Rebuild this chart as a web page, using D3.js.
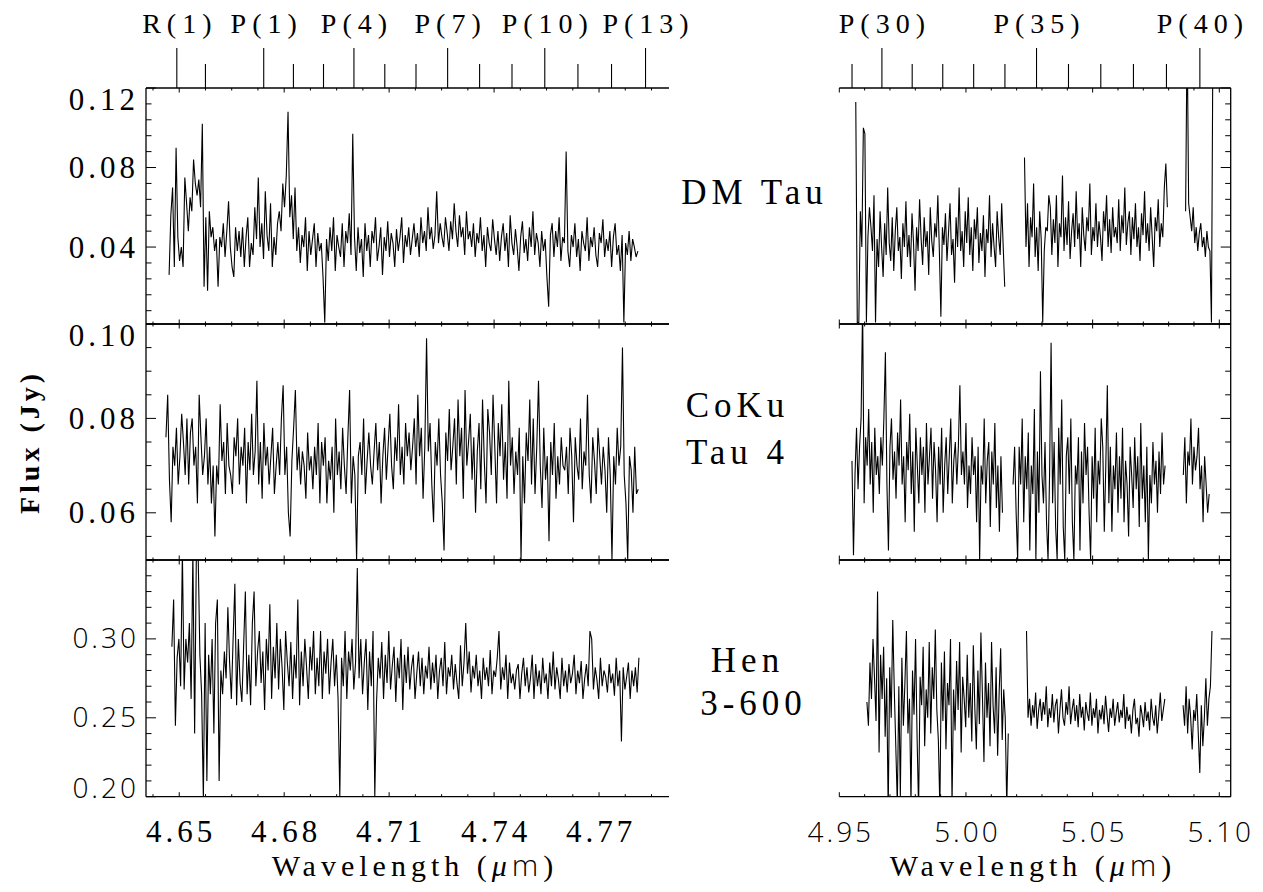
<!DOCTYPE html>
<html><head><meta charset="utf-8">
<script src="https://cdn.jsdelivr.net/npm/d3@7"></script>
<style>body{margin:0;background:#fff}svg{display:block}</style>
</head><body><svg id="c" width="1263" height="892"></svg>
<script>
// ---------------- DATA (flux in mJy, uniform wavelength sampling) ----------------
const sampleStepLeft = 0.0005;   // µm
const sampleStepRight = 0.0006;  // µm

const dmTauLeftStart = 4.6471;
const dmTauLeft = [
26,56,70,30,90,45,33,40,30,75,
62,48,65,58,84,72,66,74,60,102,
20,55,18,58,45,50,38,44,20,45,
40,52,35,48,63,40,30,25,50,38,
48,35,50,30,45,55,30,42,36,60,
44,75,40,52,34,68,46,38,62,30,
45,36,52,58,48,72,60,76,108,55,
66,44,70,38,50,32,46,40,55,28,
48,36,44,52,30,47,38,42,25,2,
44,33,50,38,55,28,46,40,35,52,
30,48,42,57,36,97,45,28,50,37,
44,25,52,38,46,30,48,42,55,33,
40,50,26,45,38,53,35,47,42,30,
49,38,45,55,32,46,40,50,36,44,
52,40,47,35,55,42,48,38,60,44,
50,39,46,68,42,52,45,40,55,47,
38,53,44,62,48,40,56,45,50,36,
58,44,48,40,52,35,47,42,55,38,
46,30,50,42,38,54,44,36,48,33,
45,52,38,47,30,56,42,36,49,40,
28,45,53,37,44,33,50,40,58,36,
47,42,30,48,38,44,25,10,46,52,
35,48,40,55,33,45,42,88,38,30,
46,40,52,35,44,28,48,42,38,55,
33,45,40,50,36,30,47,42,54,35,
44,38,48,30,45,52,36,41,28,46,
2,42,36,48,33,44,40,35,38];

const dmTauRightStart = 4.9565;
const dmTauRight = [
113,2,2,58,40,100,97,2,45,60,
50,38,66,2,44,30,58,40,25,52,
36,70,42,33,55,28,48,60,38,45,
24,52,40,63,35,46,30,57,42,18,
50,38,64,44,31,55,40,48,26,60,
43,35,52,45,66,38,5,50,41,57,
33,47,62,36,44,22,55,40,70,38,
48,30,58,42,65,36,50,28,54,44,
60,32,47,38,56,25,49,42,66,35,
52,40,30,58,45,36,62,40,20,
null,null,null,null,null,null,null,null,null,null,null,null,
85,40,62,30,55,45,72,35,50,28,
58,44,2,38,50,48,66,60,36,54,
42,66,30,52,45,76,38,55,41,63,
34,48,57,40,68,44,52,30,60,46,
38,55,48,72,36,50,43,62,40,53,
45,33,58,48,66,40,54,37,60,45,
50,42,64,38,56,47,70,41,52,58,
36,55,44,62,40,50,33,57,46,68,
42,52,38,60,45,30,55,48,64,40,
52,45,70,82,60,
null,null,null,null,null,null,null,null,null,null,null,
58,150,62,55,48,60,42,50,38,47,
52,40,45,35,48,40,38,2,150];

const cokuLeftStart = 4.6462;
const cokuLeft = [
76,85,67,58,74,70,78,66,72,81,
75,68,80,66,77,80,70,74,62,85,
76,68,72,80,66,74,62,70,55,70,
66,83,71,75,64,79,70,68,64,76,
72,80,66,74,70,78,62,75,69,81,
68,73,88,66,75,63,79,70,74,66,
72,78,64,70,75,68,80,87,68,74,
60,55,71,78,86,69,74,66,73,70,
63,77,69,72,65,74,68,79,62,75,
70,76,62,71,67,74,60,80,68,73,
65,78,70,64,76,86,62,72,68,50,
72,75,68,80,64,71,77,70,66,73,
79,69,75,62,72,78,67,74,81,70,
65,76,71,83,68,74,66,79,72,77,
69,74,80,66,85,72,78,63,74,97,
73,79,66,58,75,70,80,68,62,52,
77,71,82,69,74,80,66,84,72,78,
63,86,70,75,81,67,76,60,73,79,
65,84,71,62,82,77,68,85,74,62,
79,72,83,67,75,63,88,70,76,64,
73,68,78,50,72,62,77,71,84,66,
80,64,74,88,70,61,78,67,72,54,
75,68,79,63,72,66,76,70,69,74,
64,78,72,58,76,70,67,80,65,73,
70,85,68,62,76,71,64,78,72,66,
74,69,60,76,68,50,72,66,78,70,
74,95,68,62,50,72,69,60,74,64,65];

const cokuRightStart = 4.9550;
const cokuRight = [
71,51,68,78,65,74,80,104,62,76,
70,82,66,75,60,78,68,72,64,76,
70,80,94,66,52,74,80,67,73,63,
77,70,84,66,72,58,75,69,81,64,
73,56,78,70,62,76,68,74,60,79,
66,72,78,63,75,69,58,74,66,78,
60,70,76,64,72,80,62,71,75,66,
74,87,68,73,66,79,61,70,64,76,
68,72,58,74,50,70,66,80,62,71,
75,57,73,66,79,61,70,56,72,60,
null,null,null,null,null,null,
66,74,60,50,74,66,80,58,72,65,
77,52,70,64,82,50,73,60,90,68,
62,75,58,50,68,96,62,75,57,50,
78,66,84,57,50,72,76,64,80,58,
50,70,66,76,52,73,62,79,68,74,
60,50,72,63,78,58,71,66,80,74,
56,70,87,62,74,56,70,65,77,60,
72,63,78,58,71,66,55,74,68,61,
76,65,72,57,79,63,70,58,74,50,
68,62,75,66,71,60,73,64,77,66,70,
null,null,null,null,null,null,null,null,null,null,null,
68,76,62,73,70,80,66,74,69,72,
78,65,70,58,72,66,60,64];

const henLeftStart = 4.6479;
const henLeft = [
295,325,245,288,300,270,355,268,300,285,
310,262,355,240,355,355,290,265,198,310,
210,290,265,300,240,310,325,210,280,265,
292,275,320,285,262,300,335,258,300,272,
260,295,330,265,290,258,310,330,270,292,
305,272,292,255,300,280,322,262,295,275,
310,268,300,282,255,305,285,270,298,262,
290,275,325,258,292,270,300,282,262,295,
280,305,265,288,270,305,262,292,278,300,
265,285,300,270,290,262,200,288,270,305,
262,292,280,300,268,285,345,275,300,265,
285,300,255,292,270,305,200,260,288,275,
298,262,290,272,305,268,283,295,260,288,
275,300,255,290,272,295,268,282,290,262,
278,292,270,288,265,283,275,295,268,285,
272,290,262,280,288,270,298,265,282,276,
290,268,284,272,262,296,270,285,310,278,
292,266,283,275,290,270,280,262,288,274,
282,270,293,265,280,276,288,305,268,282,
274,290,262,285,272,278,268,280,284,262,
278,288,270,282,266,275,290,262,284,270,
280,265,288,272,278,262,285,270,292,268,
282,274,262,288,270,280,266,284,272,278,
290,265,280,272,286,262,275,284,270,305,
300,268,282,274,262,288,270,280,276,266,
284,272,278,264,288,270,280,235,282,268,
276,285,262,280,270,282,266,288];

const henRightStart = 4.9609;
const henRight = [
260,245,285,262,300,275,248,330,228,290,
262,295,238,275,190,282,250,312,268,232,
195,270,200,288,245,272,305,240,262,196,
280,252,300,238,192,276,258,295,232,268,
250,298,240,282,262,306,255,236,192,285,
248,292,230,272,258,300,195,268,242,286,
255,298,228,276,262,244,290,250,272,235,
296,256,230,280,246,304,264,222,285,250,
272,232,298,258,240,282,226,266,294,236,
268,250,194,240,
null,null,null,null,null,null,null,null,null,null,null,
305,250,262,245,258,250,266,243,255,262,
248,260,252,270,244,256,250,265,247,258,
262,240,255,268,250,245,260,252,270,246,
255,262,248,258,244,265,250,257,242,260,
253,248,266,245,256,250,262,240,255,249,
258,246,264,252,241,256,250,262,245,253,
260,247,255,250,265,243,257,248,252,240,
255,262,246,250,238,258,252,244,260,248,
254,242,262,250,245,258,240,252,266,248,255,262,
null,null,null,null,null,null,null,null,null,null,null,
258,245,270,240,262,250,230,255,248,265,
240,215,258,232,250,275,245,262,270,305];

const sourceNames = [["DM Tau"], ["CoKu", "Tau 4"], ["Hen", "3-600"]];

// CO v=1-0 line positions (top axis)
const coLinesLeftNames = ["R(1)","R(0)","P(1)","P(2)","P(3)","P(4)","P(5)","P(6)","P(7)","P(8)","P(9)","P(10)","P(11)","P(12)","P(13)"];
const coLinesLeftWave  = [4.64931,4.65749,4.67415,4.68264,4.69124,4.69994,4.70876,4.71768,4.72672,4.73586,4.74512,4.75449,4.76397,4.77357,4.78329];
const coLinesRightNames = ["P(29)","P(30)","P(31)","P(32)","P(33)","P(34)","P(35)","P(36)","P(37)","P(38)","P(39)","P(40)"];
const coLinesRightWave  = [4.95502,4.96682,4.97877,4.99084,5.00304,5.01538,5.02785,5.04047,5.05322,5.06611,5.07914,5.09233];
const coLabelled = ["R(1)","P(1)","P(4)","P(7)","P(10)","P(13)","P(30)","P(35)","P(40)"];

const xTicksLeft  = [4.65, 4.68, 4.71, 4.74, 4.77];
const xTicksRight = [4.95, 5.00, 5.05, 5.10];
const yTicksDM   = [0.04, 0.08, 0.12];
const yTicksCoKu = [0.06, 0.08, 0.10];
const yTicksHen  = [0.20, 0.25, 0.30];

// ---------------- LAYOUT ----------------
const SERIF = "'Liberation Serif', 'DejaVu Serif', 'Noto Serif', serif";
const SANS = "'Open Sans', 'DejaVu Sans', sans-serif";
const svg = d3.select('#c');
const cols = [
  {x0:146, x1:669, dom:[4.6405, 4.790], step:sampleStepLeft, ticks:xTicksLeft, minor:0.0075, minorStart:4.6425, font:SERIF, weight:400, fs:31, ls:4, co:[coLinesLeftNames, coLinesLeftWave]},
  {x0:839.3, x1:1230.7, dom:[4.95, 5.1045], step:sampleStepRight, ticks:xTicksRight, minor:0.01, minorStart:4.95, font:SANS, weight:300, fs:28, ls:3, co:[coLinesRightNames, coLinesRightWave]}
];
const rows = [
  {y0:88, y1:324, dom:[0.0013, 0.12], ticks:yTicksDM, minor:0.008, minorStart:0.008, font:SERIF, weight:400, fs:31, ls:4,
   data:[[dmTauLeftStart, dmTauLeft],[dmTauRightStart, dmTauRight]]},
  {y0:324, y1:560, dom:[0.05, 0.10], ticks:yTicksCoKu, minor:0.005, minorStart:0.05, font:SERIF, weight:400, fs:31, ls:4,
   data:[[cokuLeftStart, cokuLeft],[cokuRightStart, cokuRight]]},
  {y0:560, y1:796.7, dom:[0.20, 0.35], ticks:yTicksHen, minor:0.01, minorStart:0.20, font:SANS, weight:300, fs:28, ls:3,
   data:[[henLeftStart, henLeft],[henRightStart, henRight]]}
];

function txt(sel, font, size, ls, weight) {
  return sel.style('font-family', font).style('font-size', size + 'px')
    .style('letter-spacing', ls + 'px').style('font-weight', weight || 400).attr('fill', '#000');
}

const defs = svg.append('defs');
const g = svg.append('g').attr('stroke', '#000').attr('fill', 'none');

rows.forEach((row, r) => {
  const y = d3.scaleLinear().domain(row.dom).range([row.y1, row.y0]);
  cols.forEach((col, c) => {
    const x = d3.scaleLinear().domain(col.dom).range([col.x0, col.x1]);
    const id = `clip${r}${c}`;
    defs.append('clipPath').attr('id', id).append('rect')
      .attr('x', col.x0).attr('y', row.y0).attr('width', col.x1 - col.x0).attr('height', row.y1 - row.y0);
    const [start, vals] = row.data[c];
    const pts = vals.map((v, i) => ({w: start + i * col.step, f: v == null ? null : v / 1000}));
    const line = d3.line().defined(d => d.f != null).x(d => x(d.w)).y(d => y(d.f));
    g.append('path').attr('clip-path', `url(#${id})`).attr('d', line(pts)).attr('stroke-width', 1.1);
    // frame
    g.append('line').attr('x1', col.x0).attr('x2', col.x1).attr('y1', row.y0).attr('y2', row.y0).attr('stroke-width', 1.3);
    g.append('line').attr('x1', col.x0).attr('x2', col.x1).attr('y1', row.y1).attr('y2', row.y1).attr('stroke-width', 1.3);
    const edgeX = c === 0 ? col.x0 : col.x1;
    const dir = c === 0 ? 1 : -1;
    g.append('line').attr('x1', edgeX).attr('x2', edgeX).attr('y1', row.y0).attr('y2', row.y1).attr('stroke-width', 1.3);
    // x ticks inside, top and bottom
    d3.range(col.minorStart, col.dom[1] + 1e-9, col.minor).forEach(w => {
      const isMajor = col.ticks.some(t => Math.abs(t - w) < 1e-6);
      const len = isMajor ? 4.5 : 2.5;
      const px = x(w);
      g.append('line').attr('x1', px).attr('x2', px).attr('y1', row.y1).attr('y2', row.y1 - len).attr('stroke-width', 1);
      g.append('line').attr('x1', px).attr('x2', px).attr('y1', row.y0).attr('y2', row.y0 + len).attr('stroke-width', 1);
    });
    // y ticks on the drawn edge
    d3.range(row.minorStart, row.dom[1] + 1e-9, row.minor).forEach(f => {
      const isMajor = row.ticks.some(t => Math.abs(t - f) < 1e-6) || Math.abs(f - row.dom[1]) < 1e-6;
      const len = isMajor ? 10 : 5.5;
      const py = y(f);
      g.append('line').attr('x1', edgeX).attr('x2', edgeX + dir * len).attr('y1', py).attr('y2', py).attr('stroke-width', 1);
    });
  });
  // y labels
  row.ticks.forEach(t => {
    let cy = y(t);
    if (cy < row.y0 + 2) cy += 11;
    if (cy > row.y1 - 2) cy -= 8;
    txt(svg.append('text'), row.font, row.fs, row.ls, row.weight)
      .attr('x', 139).attr('y', cy + row.fs * 0.34).attr('text-anchor', 'end')
      .text(d3.format('.2f')(t));
  });
  // source name
  const nameCx = [[752],[735,735],[745,751]][r];
  const nameCy = [[192],[405,452],[660,703]][r];
  sourceNames[r].forEach((s, k) => {
    txt(svg.append('text'), SERIF, 35, 5)
      .attr('x', nameCx[k] + 2.5).attr('y', nameCy[k] + 12).attr('text-anchor', 'middle').text(s);
  });
});

cols.forEach((col, c) => {
  const x = d3.scaleLinear().domain(col.dom).range([col.x0, col.x1]);
  col.ticks.forEach(t => {
    txt(svg.append('text'), col.font, col.fs, col.ls, col.weight)
      .attr('x', x(t) + col.ls / 2).attr('y', 842).attr('text-anchor', 'middle')
      .text(d3.format('.2f')(t));
  });
  const cx = c === 0 ? 415 : 1033;
  const t = txt(svg.append('text'), SERIF, 30, 5).attr('x', cx).attr('y', 876).attr('text-anchor', 'middle');
  t.append('tspan').text('Wavelength (');
  t.append('tspan').style('font-style', 'italic').text('\u03bc');
  t.append('tspan').style('font-family', SANS).style('font-weight', 300).text('m');
  t.append('tspan').text(')');
  // CO line ticks on top
  const [names, waves] = col.co;
  names.forEach((n, i) => {
    const px = x(waves[i]);
    const lab = coLabelled.includes(n);
    g.append('line').attr('x1', px).attr('x2', px).attr('y1', 88).attr('y2', lab ? 48 : 64).attr('stroke-width', 1.1);
    if (lab) {
      txt(svg.append('text'), SERIF, 28, 6).attr('x', px + 3).attr('y', 33).attr('text-anchor', 'middle').text(n);
    }
  });
});

txt(svg.append('text'), SERIF, 28, 4, 'bold')
  .attr('transform', 'translate(39,442) rotate(-90)').attr('text-anchor', 'middle').text('Flux (Jy)');
</script></body></html>
